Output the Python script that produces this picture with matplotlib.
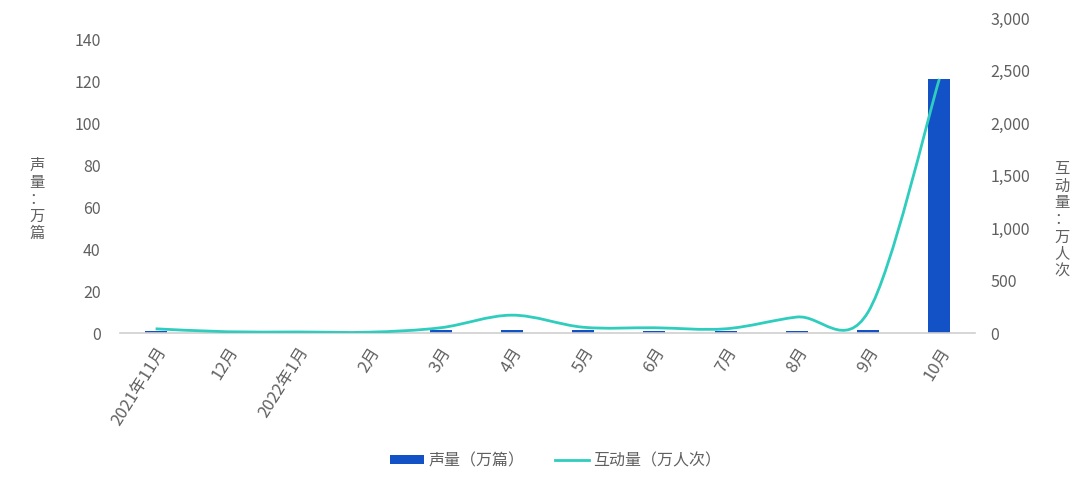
import numpy as np
import matplotlib
matplotlib.use("Agg")
import matplotlib.pyplot as plt
from matplotlib.patches import Patch
from matplotlib.lines import Line2D
from matplotlib.path import Path
from matplotlib.patches import PathPatch

plt.rcParams['font.family'] = ['Noto Sans CJK SC', 'DejaVu Sans']

categories = ["2021年11月", "12月", "2022年1月", "2月", "3月", "4月", "5月",
              "6月", "7月", "8月", "9月", "10月"]
volume = [1.0, 0.1, 0.1, 0.1, 1.4, 1.4, 1.3, 0.8, 0.8, 0.8, 1.3, 121]
interaction = [40, 12, 10, 8, 50, 170, 55, 50, 40, 152, 200, 2420]

bar_color = '#1351c6'
line_color = '#2ecdbd'
text_color = '#606060'

fig = plt.figure(figsize=(10.8, 4.87), dpi=100)
ax = fig.add_axes([120/1080, 1-333/487, (975-120)/1080, (333-18)/487])
ax2 = ax.twinx()

x = np.arange(len(categories))
ax.bar(x, volume, width=0.31, color=bar_color, zorder=2)
ax.set_xlim(-0.5, len(categories)-0.5)
ax.set_ylim(0, 150)
ax.set_yticks(np.arange(0, 141, 20))
ax2.set_ylim(0, 3000)
ax2.set_yticks(np.arange(0, 3001, 500))
ax2.set_yticklabels([f"{v:,}" for v in range(0, 3001, 500)])

# smoothed line: cubic Bezier segments through the data points (Catmull-Rom style)
pts = np.column_stack([x, interaction]).astype(float)
n = len(pts)
verts = [tuple(pts[0])]
codes = [Path.MOVETO]
for i in range(n - 1):
    p0 = pts[i-1] if i > 0 else pts[i]
    p1, p2 = pts[i], pts[i+1]
    p3 = pts[i+2] if i + 2 < n else pts[i+1]
    c1 = p1 + (p2 - p0) / 6
    c2 = p2 - (p3 - p1) / 6
    verts += [tuple(c1), tuple(c2), tuple(p2)]
    codes += [Path.CURVE4] * 3
ax2.add_patch(PathPatch(Path(verts, codes), facecolor='none', edgecolor=line_color,
                        lw=2, zorder=3))

for a in (ax, ax2):
    for s_ in a.spines.values():
        s_.set_visible(False)
    a.tick_params(axis='y', length=0, colors=text_color, labelsize=11.5)
ax.tick_params(axis='y', pad=14)
ax2.tick_params(axis='y', pad=11)
ax.spines['bottom'].set_visible(True)
ax.spines['bottom'].set_color('#d0d0d0')
ax.spines['bottom'].set_linewidth(1.2)

ax.set_xticks(x)
ax.set_xticklabels(categories, rotation=58, ha='right', va='top', rotation_mode='anchor')
ax.tick_params(axis='x', length=0, colors=text_color, labelsize=12, pad=8)

fig.text(37/1080, 1-199/487, "声\n量\n：\n万\n篇", ha='center', va='center',
         fontsize=11, color=text_color, linespacing=1.0)
fig.text(1062/1080, 1-220/487, "互\n动\n量\n：\n万\n人\n次", ha='center', va='center',
         fontsize=11, color=text_color, linespacing=1.0)

handles = [Patch(facecolor=bar_color, label="声量（万篇）"),
           Line2D([0], [0], color=line_color, lw=2, label="互动量（万人次）")]
fig.legend(handles=handles, loc='center', bbox_to_anchor=(556/1080, 1-461/487),
           ncol=2, frameon=False, fontsize=11.5, labelcolor=text_color,
           handlelength=2.07, handleheight=0.5, columnspacing=1.94, handletextpad=0.31)

fig.savefig("out.png", dpi=100)
